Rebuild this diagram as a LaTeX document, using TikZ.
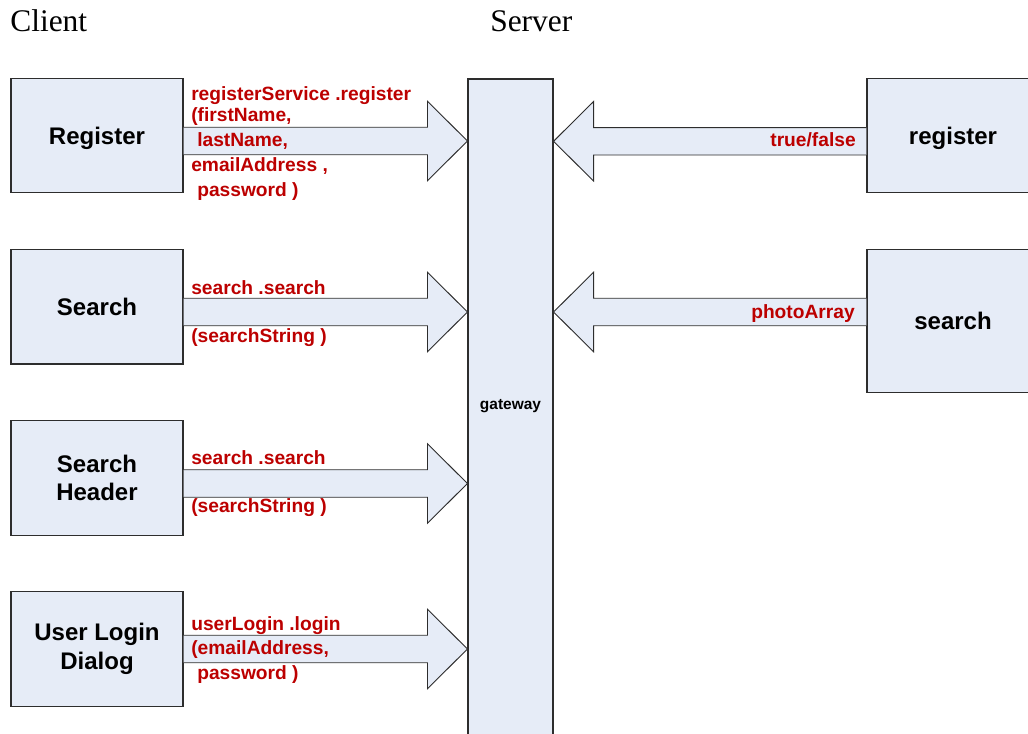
\documentclass[tikz,border=0pt]{standalone}
\usepackage{fontspec}
\setmainfont{Liberation Serif}
\newfontfamily\arialfont{Liberation Sans}
\usetikzlibrary{calc}

\definecolor{boxfill}{RGB}{230,236,247}
\definecolor{labelred}{RGB}{188,0,0}
\definecolor{edgegray}{RGB}{45,45,45}

% block arrow from a client box to the gateway, centred on an axis coordinate
\newcommand\toGateway[2]{%
  \filldraw[blockarrow] let \p1=(#1.east), \p2=(gw.west), \p3=(#2) in
    (\x1,\y3+10.3pt) -- (\x2-30pt,\y3+10.3pt) -- (\x2-30pt,\y3+29.8pt) -- (\x2,\y3)
    -- (\x2-30pt,\y3-29.8pt) -- (\x2-30pt,\y3-10.3pt) -- (\x1,\y3-10.3pt);}
% block arrow from a server box back to the gateway
\newcommand\fromServer[2]{%
  \filldraw[blockarrow] let \p1=(#1.west), \p2=(gw.east), \p3=(#2) in
    (\x1,\y3+10.3pt) -- (\x2+30pt,\y3+10.3pt) -- (\x2+30pt,\y3+29.8pt) -- (\x2,\y3)
    -- (\x2+30pt,\y3-29.8pt) -- (\x2+30pt,\y3-10.3pt) -- (\x1,\y3-10.3pt);}
% extra invisible height that lowers a one-line box caption a little
\newcommand\capstrut{\rule{0pt}{17.6pt}}

\begin{document}
\begin{tikzpicture}[x=0.75pt,y=-0.75pt,
  box/.style={draw=edgegray, line width=0.8pt, fill=boxfill, inner sep=0pt,
    minimum width=129pt, minimum height=85.9pt, align=center,
    font=\arialfont\bfseries\fontsize{18}{21.5}\selectfont},
  call/.style={text=labelred, inner sep=0pt, anchor=base west,
    font=\arialfont\bfseries\fontsize{14.4}{17}\selectfont},
  reply/.style={call, anchor=base east},
  title/.style={inner sep=0pt, anchor=base west, font=\fontsize{23.6}{28}\selectfont},
  blockarrow/.style={draw=edgegray, line width=0.7pt, fill=boxfill, line join=miter},
]
\useasboundingbox (0,0) rectangle (1028,734);
\clip (0,0) rectangle (1028,734);

% headings
\node[title] (client) at (10,32) {Client};
\node[title] (server) at (490,32) {Server};

% gateway column (runs off the bottom edge)
\node[box, minimum width=63.75pt, minimum height=495.75pt] (gw) at (510.5,409.5) {};
\node[inner sep=0pt, font=\arialfont\bfseries\fontsize{11.6}{14}\selectfont] (gwtext) at (510.5,406) {gateway};

% client components
\node[box] (register) at (97,135.5) {\capstrut Register};
\node[box] (search) at (97,306.7) {Search};
\node[box] (header) at (97,478) {Search\\Header};
\node[box] (login) at (97,648.8) {User Login\\Dialog};

% server components (run off the right edge)
\node[box] (sregister) at (953,135.5) {\capstrut register};
\node[box, minimum height=106.7pt] (ssearch) at (953,321) {search};

% arrow axes
\coordinate (a1) at (0,141);
\coordinate (a2) at (0,312);
\coordinate (a3) at (0,483.5);
\coordinate (a4) at (0,649);
\coordinate (b1) at (0,141.3);
\coordinate (b2) at (0,312);

\toGateway{register}{a1}
\toGateway{search}{a2}
\toGateway{header}{a3}
\toGateway{login}{a4}
\fromServer{sregister}{b1}
\fromServer{ssearch}{b2}

% call labels
\node[call] (r1) at (191,100.7) {registerService .register};
\node[call] (r2) at (191,121.7) {(firstName,};
\node[call] (r3) at (197,146.7) {lastName,};
\node[call] (r4) at (191,171.7) {emailAddress ,};
\node[call] (r5) at (197,197) {password )};

\node[call] (s1) at (191,294.3) {search .search};
\node[call] (s2) at (191,342.5) {(searchString )};

\node[call] (h1) at (191,464.3) {search .search};
\node[call] (h2) at (191,512.5) {(searchString )};

\node[call] (u1) at (191,630) {userLogin .login};
\node[call] (u2) at (191,654) {(emailAddress,};
\node[call] (u3) at (197,679.3) {password )};

% reply labels
\node[reply] (t1) at (856,146.7) {true/false};
\node[reply] (t2) at (855,319) {photoArray};
\end{tikzpicture}
\end{document}
